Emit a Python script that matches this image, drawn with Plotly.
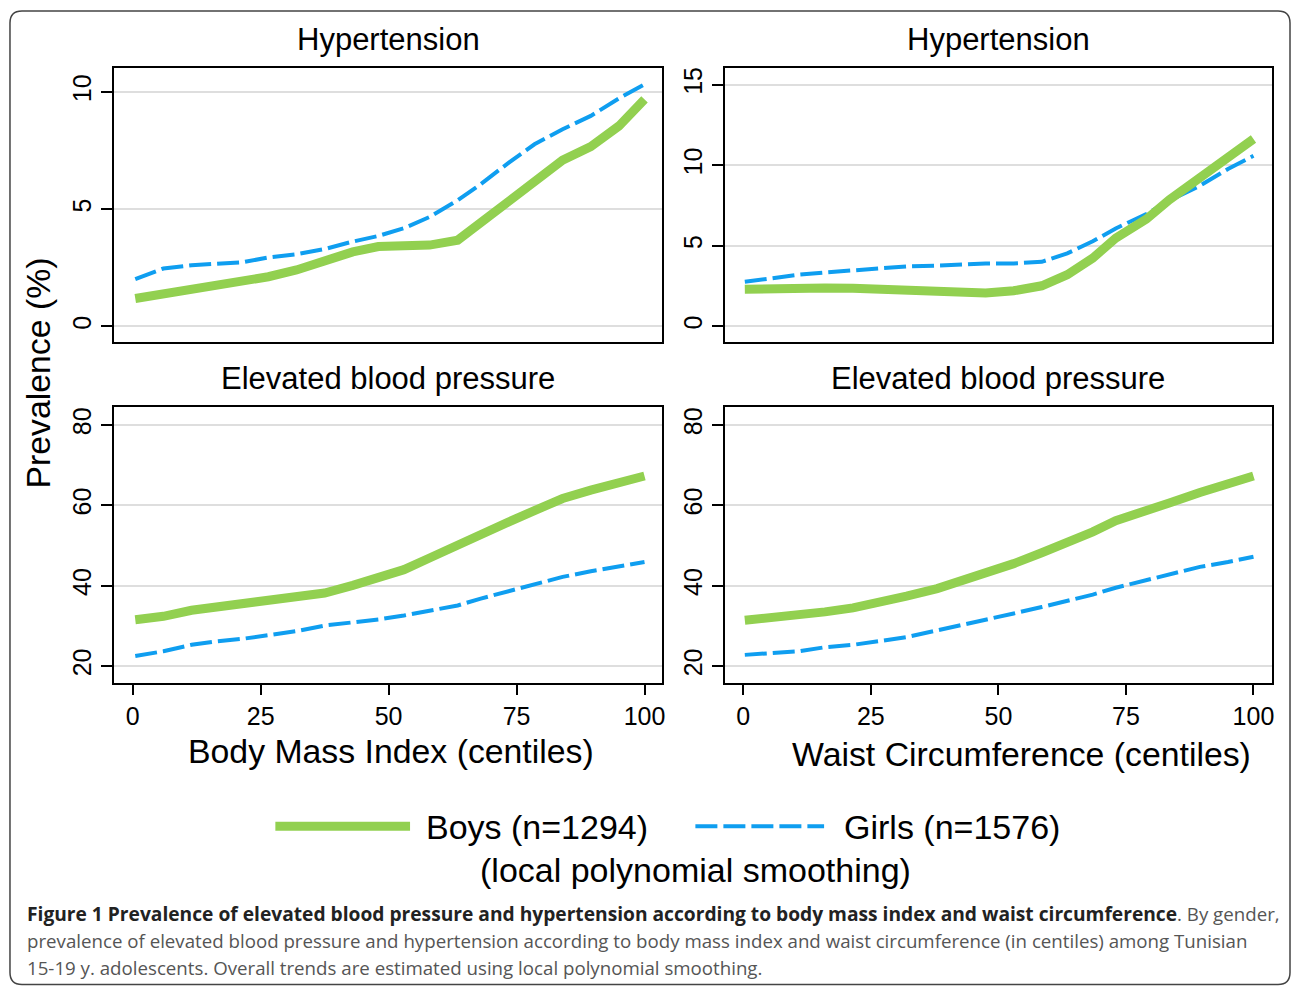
import plotly.graph_objects as go

# ---------------- data ----------------
bmi_centiles = [0.5, 6, 11.5, 16.5, 21.5, 26.5, 32, 37.5, 43, 48, 53, 58, 63.5, 68, 73.5, 78.5, 84, 89.5, 95, 100]
wc_centiles = [0.3, 5.5, 11, 16, 21.5, 26.5, 32, 38, 42.5, 47.5, 53, 58.5, 63.5, 68.5, 73, 79, 83.5, 89.5, 95, 100]

htn_bmi_boys = [1.19, 1.38, 1.62, 1.79, 1.88, 2.12, 2.41, 2.80, 3.18, 3.41, 3.44, 3.47, 3.68, 4.43, 5.40, 6.21, 7.09, 7.67, 8.55, 9.69]
htn_bmi_girls = [2.02, 2.47, 2.61, 2.68, 2.74, 2.94, 3.08, 3.30, 3.62, 3.86, 4.19, 4.67, 5.38, 6.07, 6.99, 7.77, 8.41, 8.98, 9.73, 10.33]
htn_wc_boys = [2.30, 2.36, 2.38, 2.38, 2.36, 2.30, 2.23, 2.13, 2.05, 2.07, 2.21, 2.52, 3.21, 4.24, 5.48, 6.66, 7.86, 9.25, 10.59, 11.63]
htn_wc_girls = [2.77, 3.00, 3.21, 3.35, 3.46, 3.60, 3.72, 3.77, 3.83, 3.91, 3.91, 4.01, 4.53, 5.28, 6.08, 6.97, 7.80, 8.73, 9.77, 10.59]
ebp_bmi_boys = [31.55, 32.4, 33.9, 34.7, 35.1, 36.0, 37.0, 38.2, 40.1, 42.0, 44.0, 46.9, 50.3, 53.0, 55.9, 58.7, 61.7, 63.8, 65.9, 67.3]
ebp_bmi_girls = [22.5, 23.7, 25.3, 26.2, 26.8, 27.6, 28.7, 30.1, 30.8, 31.6, 32.6, 33.9, 35.1, 36.8, 38.7, 40.5, 42.2, 43.6, 44.7, 45.9]
ebp_wc_boys = [31.4, 32.0, 32.6, 33.5, 34.5, 35.7, 37.4, 39.3, 41.2, 42.9, 45.5, 48.2, 50.7, 53.4, 56.2, 58.4, 60.6, 63.2, 65.3, 67.3]
ebp_wc_girls = [22.8, 23.2, 23.7, 24.7, 25.3, 26.2, 27.2, 28.9, 30.1, 31.4, 33.1, 34.7, 36.2, 37.8, 39.5, 41.4, 42.8, 44.7, 45.9, 47.2]

x_ticks = [0, 25, 50, 75, 100]
htn_bmi_ticks = [0, 5, 10]
htn_wc_ticks = [0, 5, 10, 15]
ebp_ticks = [20, 40, 60, 80]

panel_titles = ["Hypertension", "Hypertension", "Elevated blood pressure", "Elevated blood pressure"]
x_titles = ["Body Mass Index (centiles)", "Waist Circumference (centiles)"]
y_title = "Prevalence (%)"
series_names = ["Boys (n=1294)", "Girls (n=1576)"]
legend_note = "(local polynomial smoothing)"
caption_bold = "Figure 1 Prevalence of elevated blood pressure and hypertension according to body mass index and waist circumference"
caption_lines = [
    ". By gender,",
    "prevalence of elevated blood pressure and hypertension according to body mass index and waist circumference (in centiles) among Tunisian",
    "15-19 y. adolescents. Overall trends are estimated using local polynomial smoothing.",
]

# ---------------- styling ----------------
W, H = 1295, 986
GREEN = "#92D050"
BLUE = "#0F9EF0"
FONT = "Liberation Sans, Arial, Helvetica, sans-serif"
CAP_FONT = "Open Sans, Lato, sans-serif"


def px(x):
    return x / W


def py(y):
    return 1 - y / H


# panel pixel boxes (left, right, top, bottom)
LX = (114.7, 663.8)
RX = (726.5, 1274.8)
TY = (66.7, 341.7)
BY = (406.7, 682.7)

fig = go.Figure()

panels = [
    ("x", "y", bmi_centiles, htn_bmi_boys, htn_bmi_girls),
    ("x2", "y2", wc_centiles, htn_wc_boys, htn_wc_girls),
    ("x3", "y3", bmi_centiles, ebp_bmi_boys, ebp_bmi_girls),
    ("x4", "y4", wc_centiles, ebp_wc_boys, ebp_wc_girls),
]
for xa, ya, xs, boys, girls in panels:
    fig.add_trace(go.Scatter(x=xs, y=girls, mode="lines", xaxis=xa, yaxis=ya,
                             name=series_names[1], showlegend=False,
                             line=dict(color=BLUE, width=4, dash="22px,6px")))
    fig.add_trace(go.Scatter(x=xs, y=boys, mode="lines", xaxis=xa, yaxis=ya,
                             name=series_names[0], showlegend=False,
                             line=dict(color=GREEN, width=9)))

tickfont = dict(family=FONT, size=25, color="black")


def xaxis(dom, rng, show):
    return dict(domain=[px(dom[0]), px(dom[1])], range=rng, showline=True, mirror=True,
                linecolor="black", linewidth=2, showgrid=False, zeroline=False,
                tickvals=x_ticks, ticks="outside" if show else "", ticklen=10, tickwidth=1.5,
                tickcolor="black", showticklabels=show, tickfont=tickfont)


def yaxis(dom, rng, vals, anchor):
    return dict(domain=[py(dom[1]), py(dom[0])], range=rng, showline=True, mirror=True,
                linecolor="black", linewidth=2, showgrid=True, gridcolor="#DEDEDE", gridwidth=2,
                zeroline=False, tickvals=vals, ticks="outside", ticklen=11, tickwidth=1.5,
                tickcolor="black", tickangle=-90, tickfont=tickfont, anchor=anchor,
                ticklabelstandoff=0)


fig.update_layout(
    width=W, height=H,
    margin=dict(l=0, r=0, t=0, b=0),
    paper_bgcolor="white", plot_bgcolor="white",
    showlegend=False,
    xaxis=xaxis(LX, [-3.57, 103.47], False) | dict(anchor="y"),
    xaxis2=xaxis(RX, [-3.62, 103.6], False) | dict(anchor="y2"),
    xaxis3=xaxis(LX, [-3.57, 103.47], True) | dict(anchor="y3"),
    xaxis4=xaxis(RX, [-3.62, 103.6], True) | dict(anchor="y4"),
    yaxis=yaxis(TY, [-0.68, 11.04], htn_bmi_ticks, "x"),
    yaxis2=yaxis(TY, [-0.99, 16.06], htn_wc_ticks, "x2"),
    yaxis3=yaxis(BY, [15.8, 84.4], ebp_ticks, "x3"),
    yaxis4=yaxis(BY, [15.8, 84.4], ebp_ticks, "x4"),
)

ann = []


def add_text(text, x, y, size, xanchor="center", textangle=0, family=FONT, color="black"):
    ann.append(dict(text=text, x=px(x), y=py(y), xref="paper", yref="paper",
                    xanchor=xanchor, yanchor="middle", showarrow=False, textangle=textangle,
                    font=dict(family=family, size=size, color=color)))


# panel titles
add_text(panel_titles[0], (LX[0] + LX[1]) / 2, 38.5, 31)
add_text(panel_titles[1], (RX[0] + RX[1]) / 2, 38.5, 31)
add_text(panel_titles[2], (LX[0] + LX[1]) / 2, 377.5, 31)
add_text(panel_titles[3], (RX[0] + RX[1]) / 2, 377.5, 31)
# axis titles
add_text(x_titles[0], 392, 751, 33.8)
add_text(x_titles[1], 1024, 754, 33.8)
add_text(y_title, 38, 372, 33.8, textangle=-90)
# legend
add_text(series_names[0], 424.5, 826.5, 34, xanchor="left")
add_text(series_names[1], 843.5, 826.5, 34, xanchor="left")
add_text(legend_note, 697, 869.5, 34)
# caption
add_text("<span style='color:#222;font-size:19.2px'><b>" + caption_bold + "</b></span>" + caption_lines[0],
         25, 913, 18.7, xanchor="left", family=CAP_FONT, color="#555")
add_text(caption_lines[1], 25, 940, 18.7, xanchor="left", family=CAP_FONT, color="#555")
add_text(caption_lines[2], 25, 967, 18.7, xanchor="left", family=CAP_FONT, color="#555")
fig.update_layout(annotations=ann)

shapes = []
# legend swatches
shapes.append(dict(type="line", xref="paper", yref="paper", x0=px(276), x1=px(411),
                   y0=py(826), y1=py(826), line=dict(color=GREEN, width=9)))
shapes.append(dict(type="line", xref="paper", yref="paper", x0=px(697), x1=px(826),
                   y0=py(826), y1=py(826), line=dict(color=BLUE, width=4, dash="22px,6px")))
# outer rounded frame
x0, y0, x1, y1, r = 10, 10, 1293, 984.5, 12
pts = (f"M {px(x0 + r)},{py(y0)} L {px(x1 - r)},{py(y0)} Q {px(x1)},{py(y0)} {px(x1)},{py(y0 + r)} "
       f"L {px(x1)},{py(y1 - r)} Q {px(x1)},{py(y1)} {px(x1 - r)},{py(y1)} "
       f"L {px(x0 + r)},{py(y1)} Q {px(x0)},{py(y1)} {px(x0)},{py(y1 - r)} "
       f"L {px(x0)},{py(y0 + r)} Q {px(x0)},{py(y0)} {px(x0 + r)},{py(y0)} Z")
shapes.append(dict(type="path", xref="paper", yref="paper", path=pts,
                   line=dict(color="#444444", width=1.5)))
fig.update_layout(shapes=shapes)

fig.write_html("out.html", config={"displayModeBar": False},
               post_script="document.body.style.margin='0';document.body.style.overflow='hidden';")
